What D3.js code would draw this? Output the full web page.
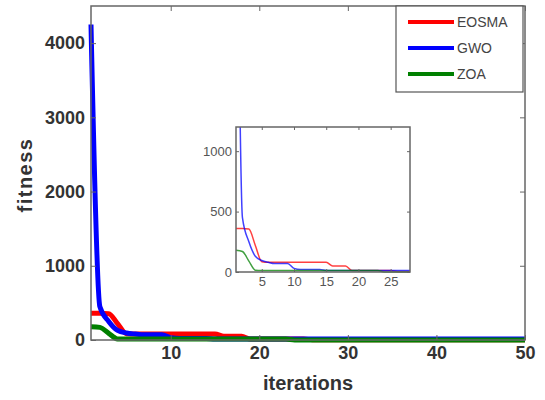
<!DOCTYPE html>
<html>
<head>
<meta charset="utf-8">
<script src="https://cdn.jsdelivr.net/npm/d3@7"></script>
<style>
  body { margin: 0; background: #fff; }
  svg { display: block; font-family: "Liberation Sans", Arial, sans-serif; }
</style>
</head>
<body>
<div id="chart"></div>
<script>
// convergence curves, one value per iteration (1..50)

const iterations = d3.range(1, 51);

const eosma = [360, 360, 355, 220, 85, 80, 80, 80, 80, 80,
  80, 80, 80, 80, 80, 50, 50, 50, 12, 12,
  12, 12, 12, 12, 12, 5, 5, 5, 5, 5,
  5, 5, 5, 5, 5, 5, 5, 5, 5, 5,
  5, 5, 5, 5, 5, 5, 5, 5, 5, 5];

const gwo = [4250, 450, 250, 130, 95, 80, 70, 70, 70, 30,
  20, 20, 20, 20, 12, 12, 12, 12, 12, 12,
  12, 12, 12, 12, 12, 12, 12, 12, 12, 12,
  12, 12, 12, 12, 12, 12, 12, 12, 12, 12,
  12, 12, 12, 12, 12, 12, 12, 12, 12, 12];

const zoa = [180, 170, 90, 15, 12, 12, 12, 12, 12, 12,
  12, 12, 12, 12, 12, 12, 12, 12, 12, 12,
  12, 12, 12, 0, 0, 0, 0, 0, 0, 0,
  0, 0, 0, 0, 0, 0, 0, 0, 0, 0,
  0, 0, 0, 0, 0, 0, 0, 0, 0, 0];

const seriesNames = ['EOSMA', 'GWO', 'ZOA'];
const seriesColors = ['#ff0000', '#0000ff', '#008000'];

const mainXTicks = [10, 20, 30, 40, 50];
const mainYTicks = [0, 1000, 2000, 3000, 4000];
const insetXTicks = [5, 10, 15, 20, 25];
const insetYTicks = [0, 500, 1000];

const W = 545, H = 400;

const series = [
  { name: seriesNames[0], color: seriesColors[0], values: eosma },
  { name: seriesNames[1], color: seriesColors[1], values: gwo },
  { name: seriesNames[2], color: seriesColors[2], values: zoa },
];
// drawing order: red, blue, green on top
const drawOrder = [0, 1, 2];

const svg = d3.select('#chart').append('svg')
  .attr('width', W)
  .attr('height', H);

function drawPanel(g, box, xDomain, yDomain, xTicks, yTicks, opts) {
  const x = d3.scaleLinear().domain(xDomain).range([box.left, box.right]);
  const y = d3.scaleLinear().domain(yDomain).range([box.bottom, box.top]);

  g.append('rect')
    .attr('x', box.left).attr('y', box.top)
    .attr('width', box.right - box.left).attr('height', box.bottom - box.top)
    .attr('fill', '#fff');

  const clipId = 'clip-' + opts.id;
  g.append('clipPath').attr('id', clipId)
    .append('rect')
    .attr('x', box.left - opts.clipPad).attr('y', box.top)
    .attr('width', box.right - box.left + 2 * opts.clipPad).attr('height', box.bottom - box.top + 10);

  const line = d3.line()
    .x((d, i) => x(iterations[i]))
    .y(d => y(d))
    .curve(d3.curveMonotoneX);

  const lines = g.append('g').attr('clip-path', `url(#${clipId})`);
  drawOrder.forEach(k => {
    lines.append('path')
      .datum(series[k].values)
      .attr('d', line)
      .attr('fill', 'none')
      .attr('stroke', series[k].color)
      .attr('stroke-width', opts.lineWidth)
      .attr('stroke-opacity', opts.lineOpacity)
      .attr('stroke-linejoin', 'round');
  });

  const fmt = d3.format('d');
  const axisStyle = sel => {
    sel.select('.domain').remove();
    sel.selectAll('line').attr('stroke', '#666');
    sel.selectAll('text')
      .attr('fill', opts.textColor)
      .style('font-size', opts.fontSize + 'px')
      .style('font-weight', opts.fontWeight);
  };

  g.append('g').attr('transform', `translate(0,${box.bottom})`)
    .call(d3.axisBottom(x).tickValues(xTicks).tickFormat(fmt).tickSizeInner(-opts.tick).tickSizeOuter(0).tickPadding(opts.xPad))
    .call(axisStyle);
  g.append('g').attr('transform', `translate(0,${box.top})`)
    .call(d3.axisTop(x).tickValues(xTicks).tickSizeInner(-opts.tick).tickSizeOuter(0).tickFormat(''))
    .call(axisStyle);
  g.append('g').attr('transform', `translate(${box.left},0)`)
    .call(d3.axisLeft(y).tickValues(yTicks).tickFormat(fmt).tickSizeInner(-opts.tick).tickSizeOuter(0).tickPadding(opts.yPad))
    .call(axisStyle);
  g.append('g').attr('transform', `translate(${box.right},0)`)
    .call(d3.axisRight(y).tickValues(yTicks).tickSizeInner(-opts.tick).tickSizeOuter(0).tickFormat(''))
    .call(axisStyle);

  g.append('rect')
    .attr('x', box.left).attr('y', box.top)
    .attr('width', box.right - box.left).attr('height', box.bottom - box.top)
    .attr('fill', 'none')
    .attr('stroke', '#666')
    .attr('stroke-width', opts.frameWidth);

  return { x, y };
}

// main plot
const mainBox = { left: 91, right: 525, top: 6, bottom: 340 };
drawPanel(svg.append('g'), mainBox, [1, 50], [0, 4500], mainXTicks, mainYTicks, {
  id: 'main', lineWidth: 5, lineOpacity: 1, tick: 5, fontSize: 18, fontWeight: 'bold',
  textColor: '#333', xPad: 6, yPad: 6, frameWidth: 1.5, clipPad: 3,
});

// axis titles
svg.append('text')
  .attr('x', (mainBox.left + mainBox.right) / 2)
  .attr('y', 390)
  .attr('text-anchor', 'middle')
  .attr('fill', '#333')
  .style('font-size', '20px')
  .style('font-weight', 'bold')
  .text('iterations');

svg.append('text')
  .attr('transform', `translate(32,${(mainBox.top + mainBox.bottom) / 2 + 2}) rotate(-90)`)
  .attr('text-anchor', 'middle')
  .attr('fill', '#333')
  .style('font-size', '20px')
  .style('font-weight', 'bold')
  .style('letter-spacing', '1.5px')
  .text('fitness');

// inset zoom
const insetBox = { left: 236, right: 410, top: 127, bottom: 272 };
drawPanel(svg.append('g'), insetBox, [1, 28], [0, 1200], insetXTicks, insetYTicks, {
  id: 'inset', lineWidth: 1.5, lineOpacity: 0.75, tick: 3, fontSize: 13, fontWeight: 'normal',
  textColor: '#555', xPad: 5, yPad: 4, frameWidth: 1.5, clipPad: 0,
});

// legend
const legend = svg.append('g');
legend.append('rect')
  .attr('x', 396).attr('y', 6)
  .attr('width', 127).attr('height', 86)
  .attr('fill', '#fff')
  .attr('stroke', '#555')
  .attr('stroke-width', 1.2);

series.forEach((s, i) => {
  const ly = 22 + i * 26;
  legend.append('line')
    .attr('x1', 408).attr('x2', 454)
    .attr('y1', ly).attr('y2', ly)
    .attr('stroke', s.color)
    .attr('stroke-width', 4);
  legend.append('text')
    .attr('x', 457).attr('y', ly + 5)
    .attr('fill', '#444')
    .style('font-size', '14px')
    .text(s.name);
});
</script>
</body>
</html>
